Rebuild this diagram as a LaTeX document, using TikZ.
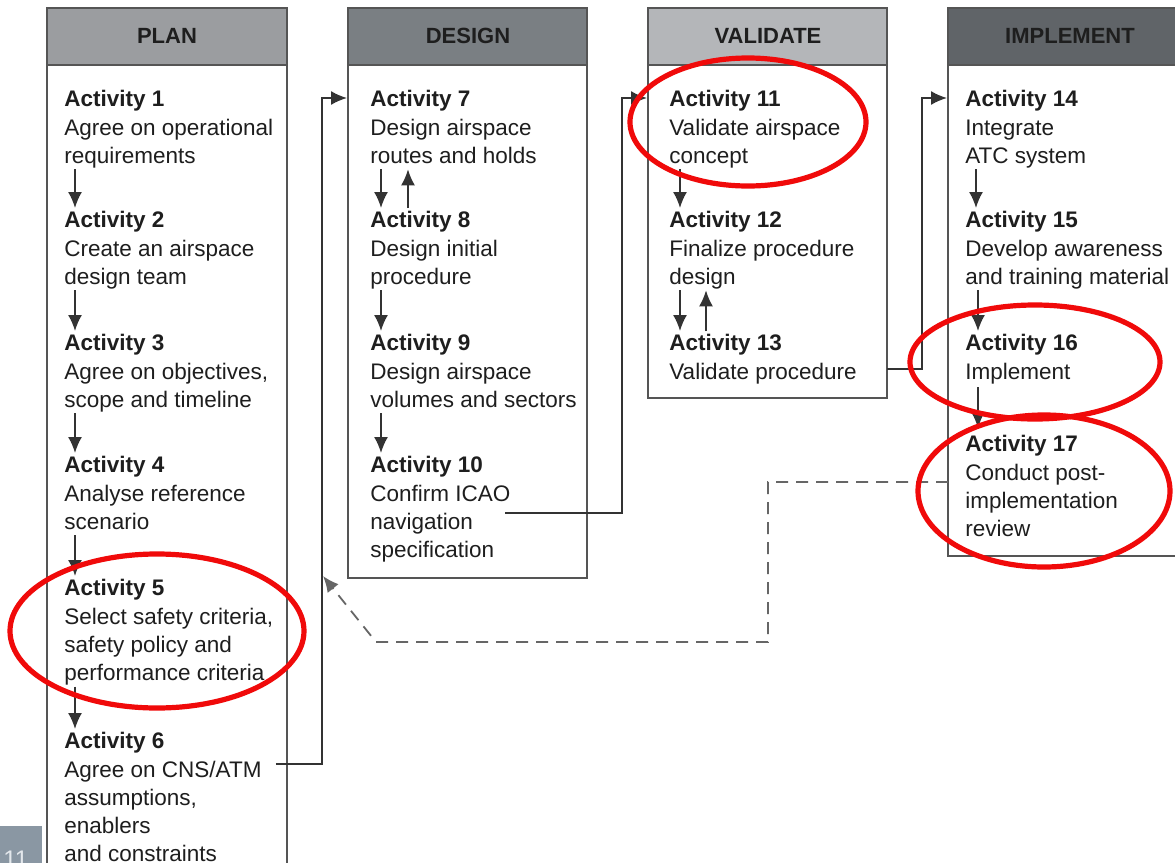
\documentclass[tikz,border=0pt]{standalone}
\usepackage{fontspec}
\setmainfont{Liberation Sans}
\usetikzlibrary{calc,arrows.meta}

\definecolor{planhead}{HTML}{9B9DA0}
\definecolor{designhead}{HTML}{7A7F83}
\definecolor{validhead}{HTML}{B4B6B9}
\definecolor{implhead}{HTML}{606468}
\definecolor{boxline}{HTML}{555555}
\definecolor{txt}{HTML}{1E1E1E}
\definecolor{linec}{HTML}{333333}
\definecolor{dashc}{HTML}{666666}
\definecolor{ringred}{HTML}{F00A0A}
\definecolor{slidebg}{HTML}{8A97A3}
\definecolor{slidetxt}{HTML}{E4E8EC}

\begin{document}
\begin{tikzpicture}[x=0.5pt,y=-0.5pt,
  colbody/.style={draw=boxline, line width=1pt, fill=white},
  colhead/.style={draw=boxline, line width=1pt},
  headtxt/.style={inner sep=0pt, font=\fontsize{11}{13}\selectfont\bfseries, text=txt},
  act/.style={anchor=north west, inner sep=0pt, align=left,
    font=\fontsize{11.25}{14.15}\selectfont, text=txt,
    execute at end node={\vphantom{g}}},
  flow/.style={draw=linec, line width=0.85pt, -{Latex[length=8pt,width=7pt]}},
  back/.style={draw=dashc, line width=0.9pt, dash pattern=on 6pt off 4pt,
    -{Latex[length=8pt,width=7pt]}},
  ring/.style={draw=ringred, line width=2.6pt}]

\clip (0,0) rectangle (1175,863);
\fill[white] (0,0) rectangle (1175,863);

% slide number tab
\fill[slidebg] (0,826) rectangle (42,870);
\node[anchor=north west, inner sep=0pt, text=slidetxt,
  font=\fontsize{12}{14}\selectfont] (pgno) at (3,851) {11};

% column frames
\draw[colbody] (47,65) rectangle (287,900);
\draw[colhead, fill=planhead] (47,8) rectangle (287,65);
\draw[colbody] (348,65) rectangle (587,578);
\draw[colhead, fill=designhead] (348,8) rectangle (587,65);
\draw[colbody] (648,65) rectangle (887,398);
\draw[colhead, fill=validhead] (648,8) rectangle (887,65);
\draw[colbody] (948,65) rectangle (1190,556);
\draw[colhead, fill=implhead] (948,8) rectangle (1190,65);

\node[headtxt] (hplan) at (167,36) {PLAN};
\node[headtxt] (hdesign) at (468,36) {DESIGN};
\node[headtxt] (hvalid) at (768,36) {VALIDATE};
\node[headtxt] (himpl) at (1070,36) {IMPLEMENT};

% PLAN
\node[act] (a1) at (64,90)  {\textbf{Activity 1}\\Agree on operational\\requirements};
\node[act] (a2) at (64,211) {\textbf{Activity 2}\\Create an airspace\\design team};
\node[act] (a3) at (64,334) {\textbf{Activity 3}\\Agree on objectives,\\scope and timeline};
\node[act] (a4) at (64,456) {\textbf{Activity 4}\\Analyse reference\\scenario};
\node[act] (a5) at (64,579) {\textbf{Activity 5}\\Select safety criteria,\\safety policy and\\performance criteria};
\node[act] (a6) at (64,732) {\textbf{Activity 6}\\Agree on CNS/ATM\\assumptions,\\enablers\\and constraints};

% DESIGN
\node[act] (a7)  at (370,90)  {\textbf{Activity 7}\\Design airspace\\routes and holds};
\node[act] (a8)  at (370,211) {\textbf{Activity 8}\\Design initial\\procedure};
\node[act] (a9)  at (370,334) {\textbf{Activity 9}\\Design airspace\\volumes and sectors};
\node[act] (a10) at (370,456) {\textbf{Activity 10}\\Confirm ICAO\\navigation\\specification};

% VALIDATE
\node[act] (a11) at (669,90)  {\textbf{Activity 11}\\Validate airspace\\concept};
\node[act] (a12) at (669,211) {\textbf{Activity 12}\\Finalize procedure\\design};
\node[act] (a13) at (669,334) {\textbf{Activity 13}\\Validate procedure};

% IMPLEMENT
\node[act] (a14) at (965,90)  {\textbf{Activity 14}\\Integrate\\ATC system};
\node[act] (a15) at (965,211) {\textbf{Activity 15}\\Develop awareness\\and training material};
\node[act] (a16) at (965,334) {\textbf{Activity 16}\\Implement};
\node[act] (a17) at (965,435) {\textbf{Activity 17}\\Conduct post-\\implementation\\review};

% steps inside the columns
\draw[flow] ($(a1.south west)+(11,1)$) -- ($(a2.north west)+(11,-3)$);
\draw[flow] ($(a2.south west)+(11,1)$) -- ($(a3.north west)+(11,-3)$);
\draw[flow] ($(a3.south west)+(11,1)$) -- ($(a4.north west)+(11,-3)$);
\draw[flow] ($(a4.south west)+(11,1)$) -- ($(a5.north west)+(11,-3)$);
\draw[flow] ($(a5.south west)+(11,1)$) -- ($(a6.north west)+(11,-3)$);

\draw[flow] ($(a7.south west)+(11,1)$) -- ($(a8.north west)+(11,-3)$);
\draw[flow] ($(a8.north west)+(38,-3)$) -- ($(a7.south west)+(38,1)$);
\draw[flow] ($(a8.south west)+(11,1)$) -- ($(a9.north west)+(11,-3)$);
\draw[flow] ($(a9.south west)+(11,1)$) -- ($(a10.north west)+(11,-3)$);

\draw[flow] ($(a11.south west)+(11,1)$) -- ($(a12.north west)+(11,-3)$);
\draw[flow] ($(a12.south west)+(11,1)$) -- ($(a13.north west)+(11,-3)$);
\draw[flow] ($(a13.north west)+(37,-3)$) -- ($(a12.south west)+(37,1)$);

\draw[flow] ($(a14.south west)+(11,1)$) -- ($(a15.north west)+(11,-3)$);
\draw[flow] ($(a15.south west)+(13,1)$) -- ($(a16.north west)+(13,-3)$);
\draw[flow] ($(a16.south west)+(13,3)$) -- ($(a17.north west)+(13,-7)$);

% links between the columns
\coordinate (j6)  at ($(a6.north east)+(14,32)$);
\coordinate (j10) at ($(a10.north west)+(135,57)$);
\coordinate (j13) at ($(a13.north west)+(218,35)$);
\draw[flow] (j6)  -| ($(a7.north west)+(-48,8)$)  -- ($(a7.north west)+(-23,8)$);
\draw[flow] (j10) -| ($(a11.north west)+(-47,8)$) -- ($(a11.north west)+(-22,8)$);
\draw[flow] (j13) -| ($(a14.north west)+(-43,8)$) -- ($(a14.north west)+(-18,8)$);

% feedback from review back to design
\coordinate (fb0) at ($(a17.north west)+(-17,47)$);
\coordinate (fb1) at (768,482);
\coordinate (fb2) at (768,642);
\coordinate (fb3) at (376,642);
\coordinate (fb4) at (323,576);
\draw[back] (fb0) -- (fb1) -- (fb2) -- (fb3) -- (fb4);

% highlight rings
\draw[ring] (748,122) ellipse [x radius=118, y radius=64];
\draw[ring] (1035,362) ellipse [x radius=125, y radius=57];
\draw[ring] (1044,491) ellipse [x radius=126, y radius=76];
\draw[ring] (157,631) ellipse [x radius=147, y radius=77];
\end{tikzpicture}
\end{document}
